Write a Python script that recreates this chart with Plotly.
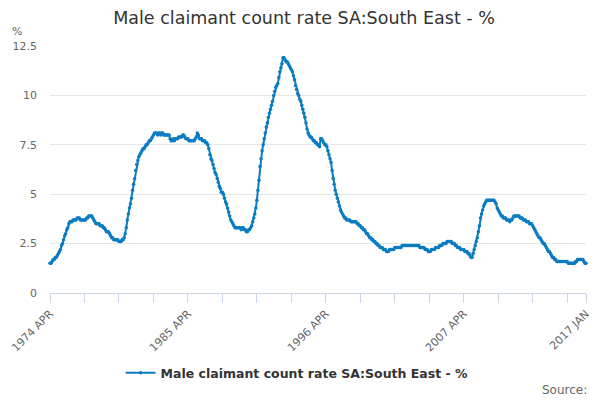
import pandas as pd
import plotly.graph_objects as go

# Monthly values, one row per year (1974 starts in April, 2017 is January only)
y1974 = [1.5, 1.5, 1.6, 1.7, 1.7, 1.8, 1.8, 1.9, 2.0]
y1975 = [2.1, 2.2, 2.4, 2.5, 2.7, 2.9, 3.0, 3.2, 3.3, 3.5, 3.6, 3.6]
y1976 = [3.6, 3.7, 3.7, 3.7, 3.7, 3.8, 3.8, 3.8, 3.7, 3.7, 3.7, 3.7]
y1977 = [3.7, 3.7, 3.8, 3.8, 3.9, 3.9, 3.9, 3.9, 3.8, 3.7, 3.6, 3.5]
y1978 = [3.5, 3.5, 3.5, 3.4, 3.4, 3.4, 3.3, 3.3, 3.2, 3.1, 3.1, 3.1]
y1979 = [3.0, 2.9, 2.8, 2.8, 2.7, 2.7, 2.7, 2.7, 2.7, 2.6, 2.6, 2.6]
y1980 = [2.7, 2.7, 2.8, 3.0, 3.3, 3.7, 4.0, 4.3, 4.5, 4.8, 5.2, 5.5]
y1981 = [5.8, 6.2, 6.5, 6.7, 6.9, 7.0, 7.1, 7.2, 7.3, 7.3, 7.4, 7.5]
y1982 = [7.5, 7.6, 7.7, 7.7, 7.8, 7.9, 8.0, 8.1, 8.1, 8.1, 8.0, 8.1]
y1983 = [8.1, 8.0, 8.1, 8.1, 8.0, 8.0, 8.0, 8.0, 8.0, 8.0, 7.8, 7.7]
y1984 = [7.7, 7.8, 7.7, 7.8, 7.8, 7.8, 7.9, 7.9, 7.9, 7.9, 8.0, 8.0]
y1985 = [7.9, 7.8, 7.8, 7.8, 7.7, 7.7, 7.7, 7.7, 7.7, 7.7, 7.8, 7.9]
y1986 = [8.1, 8.0, 7.8, 7.8, 7.8, 7.7, 7.7, 7.7, 7.6, 7.6, 7.5, 7.3]
y1987 = [7.0, 6.8, 6.7, 6.5, 6.3, 6.1, 6.0, 5.8, 5.6, 5.4, 5.3, 5.1]
y1988 = [5.1, 5.0, 4.8, 4.6, 4.5, 4.3, 4.1, 3.9, 3.7, 3.6, 3.5, 3.4]
y1989 = [3.3, 3.3, 3.3, 3.3, 3.3, 3.3, 3.2, 3.3, 3.3, 3.2, 3.2, 3.1]
y1990 = [3.1, 3.2, 3.2, 3.3, 3.4, 3.6, 3.8, 4.0, 4.3, 4.7, 5.2, 5.7]
y1991 = [6.4, 6.8, 7.2, 7.5, 7.8, 8.1, 8.4, 8.6, 8.9, 9.1, 9.3, 9.5]
y1992 = [9.7, 10.0, 10.2, 10.4, 10.5, 10.6, 10.9, 11.2, 11.4, 11.6, 11.9, 11.9]
y1993 = [11.8, 11.7, 11.7, 11.6, 11.5, 11.4, 11.3, 11.2, 11.0, 10.8, 10.5, 10.3]
y1994 = [10.1, 10.0, 9.8, 9.7, 9.5, 9.3, 9.1, 8.9, 8.6, 8.3, 8.1, 8.0]
y1995 = [7.9, 7.9, 7.8, 7.7, 7.7, 7.6, 7.6, 7.5, 7.5, 7.4, 7.8, 7.8]
y1996 = [7.7, 7.6, 7.5, 7.5, 7.4, 7.2, 7.0, 6.8, 6.6, 6.2, 5.8, 5.5]
y1997 = [5.2, 5.0, 4.8, 4.6, 4.4, 4.2, 4.1, 4.0, 3.9, 3.8, 3.8, 3.7]
y1998 = [3.7, 3.7, 3.7, 3.6, 3.6, 3.6, 3.6, 3.6, 3.6, 3.5, 3.5, 3.4]
y1999 = [3.4, 3.3, 3.3, 3.2, 3.2, 3.1, 3.0, 3.0, 2.9, 2.8, 2.8, 2.7]
y2000 = [2.7, 2.6, 2.6, 2.5, 2.5, 2.4, 2.4, 2.3, 2.3, 2.3, 2.2, 2.2]
y2001 = [2.2, 2.1, 2.1, 2.1, 2.2, 2.2, 2.2, 2.2, 2.2, 2.3, 2.3, 2.3]
y2002 = [2.3, 2.3, 2.3, 2.3, 2.4, 2.4, 2.4, 2.4, 2.4, 2.4, 2.4, 2.4]
y2003 = [2.4, 2.4, 2.4, 2.4, 2.4, 2.4, 2.4, 2.4, 2.4, 2.3, 2.3, 2.3]
y2004 = [2.3, 2.3, 2.2, 2.2, 2.2, 2.1, 2.1, 2.1, 2.2, 2.2, 2.2, 2.2]
y2005 = [2.3, 2.3, 2.3, 2.3, 2.4, 2.4, 2.4, 2.5, 2.5, 2.5, 2.5, 2.6]
y2006 = [2.6, 2.6, 2.6, 2.6, 2.5, 2.5, 2.5, 2.4, 2.4, 2.3, 2.3, 2.3]
y2007 = [2.2, 2.2, 2.2, 2.2, 2.1, 2.1, 2.1, 2.0, 2.0, 1.9, 1.8, 1.8]
y2008 = [2.0, 2.2, 2.4, 2.6, 2.8, 3.1, 3.4, 3.8, 4.0, 4.2, 4.4, 4.5]
y2009 = [4.6, 4.7, 4.7, 4.7, 4.7, 4.7, 4.7, 4.7, 4.7, 4.6, 4.5, 4.3]
y2010 = [4.2, 4.1, 4.0, 3.9, 3.9, 3.8, 3.8, 3.8, 3.7, 3.7, 3.7, 3.6]
y2011 = [3.7, 3.7, 3.8, 3.9, 3.9, 3.9, 3.9, 3.9, 3.9, 3.8, 3.8, 3.8]
y2012 = [3.7, 3.7, 3.7, 3.6, 3.6, 3.6, 3.5, 3.5, 3.5, 3.4, 3.3, 3.2]
y2013 = [3.1, 3.0, 2.9, 2.8, 2.8, 2.7, 2.6, 2.5, 2.5, 2.4, 2.3, 2.2]
y2014 = [2.1, 2.1, 2.0, 1.9, 1.8, 1.8, 1.7, 1.7, 1.6, 1.6, 1.6, 1.6]
y2015 = [1.6, 1.6, 1.6, 1.6, 1.6, 1.6, 1.6, 1.5, 1.5, 1.5, 1.5, 1.5]
y2016 = [1.5, 1.5, 1.6, 1.6, 1.7, 1.7, 1.7, 1.7, 1.7, 1.7, 1.6, 1.5]
y2017 = [1.5]

years = [y1974, y1975, y1976, y1977, y1978, y1979, y1980, y1981, y1982, y1983,
         y1984, y1985, y1986, y1987, y1988, y1989, y1990, y1991, y1992, y1993,
         y1994, y1995, y1996, y1997, y1998, y1999, y2000, y2001, y2002, y2003,
         y2004, y2005, y2006, y2007, y2008, y2009, y2010, y2011, y2012, y2013,
         y2014, y2015, y2016, y2017]
values = [v for yr in years for v in yr]

dates = pd.date_range("1974-04-01", periods=len(values), freq="MS")
labels = [d.strftime("%Y ") + d.strftime("%b").upper() for d in dates]
x = list(range(len(values)))

# ticks every 33 months, labelled every 11 years, plus the final month
tick_idx = list(range(0, len(values), 33)) + [len(values) - 1]
tick_txt = [labels[i] if (i % 132 == 0 or i == len(values) - 1) else "" for i in tick_idx]

name = "Male claimant count rate SA:South East - %"
blue = "#0b7cc1"

fig = go.Figure()
fig.add_trace(go.Scatter(
    x=x, y=values, mode="lines+markers", name="<b>" + name + "</b>",
    line=dict(color=blue, width=2),
    marker=dict(color=blue, size=3.5),
    cliponaxis=False,
    customdata=labels,
    hovertemplate="%{customdata}: %{y}<extra></extra>",
))

# the page body adds an 8px margin, so the figure is 592x392 and offset accordingly
fig.update_layout(
    width=592, height=392,
    margin=dict(l=42, r=14, t=38, b=107, autoexpand=False),
    paper_bgcolor="white", plot_bgcolor="white",
    font=dict(family="DejaVu Sans, sans-serif", size=11, color="#666666"),
    title=dict(text=name, x=0.5, xanchor="center", y=0.974, yanchor="middle",
               font=dict(size=17.5, color="#333333")),
    showlegend=True,
    legend=dict(orientation="h", x=0.461, xanchor="center", y=-0.324, yanchor="middle",
                font=dict(size=12.5, color="#333333")),
    annotations=[
        dict(text="%", xref="paper", yref="paper", x=-0.075, y=1.057,
             xanchor="left", yanchor="middle", showarrow=False,
             font=dict(size=11, color="#666666")),
        dict(text="Source:", xref="paper", yref="paper", x=1.0, y=-0.393,
             xanchor="right", yanchor="middle", showarrow=False, xshift=3,
             font=dict(size=12, color="#666666")),
    ],
)

fig.update_xaxes(
    range=[0, len(values) - 1], automargin=False,
    tickmode="array", tickvals=tick_idx, ticktext=tick_txt,
    tickangle=-45, ticks="outside", ticklen=9, tickcolor="#ccd6eb",
    showline=True, linecolor="#ccd6eb", linewidth=1,
    showgrid=False, zeroline=False,
    tickfont=dict(size=11, color="#666666"),
)
fig.update_yaxes(
    range=[0, 12.5], automargin=False,
    tickmode="array", tickvals=[0, 2.5, 5, 7.5, 10, 12.5],
    ticktext=["0", "2.5", "5", "7.5", "10", "12.5"],
    showgrid=True, gridcolor="#e6e6e6", gridwidth=1,
    zeroline=False, showline=False, ticklabelstandoff=12,
    tickfont=dict(size=11, color="#666666"),
)

fig.write_html("out.html")
